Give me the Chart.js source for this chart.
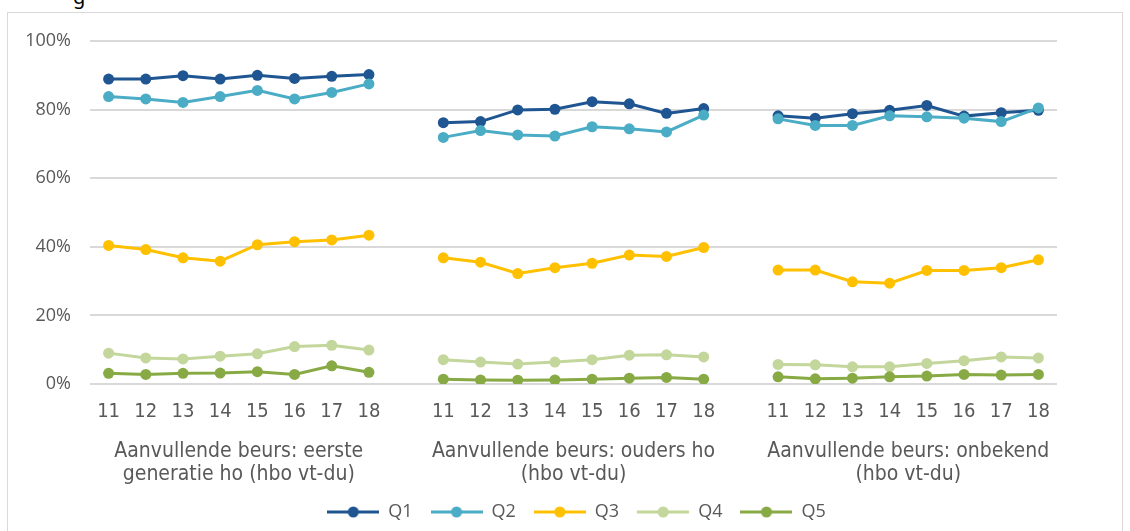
<!DOCTYPE html>
<html>
<head>
<meta charset="utf-8">
<script src="https://cdn.jsdelivr.net/npm/chart.js@4"></script>
<style>
  html, body { margin: 0; padding: 0; background: #fff; overflow: hidden; }
  #frame { position: absolute; left: 7px; top: 12px; width: 1116px; height: 540px; border: 1px solid #d9d9d9; box-sizing: border-box; }
  #frag { position: absolute; left: 73px; top: -17px; font: 20px "Noto Sans", sans-serif; color: #000; }
  canvas { position: absolute; left: 0; top: 0; }
</style>
</head>
<body>
<div id="frag">g</div>
<div id="frame"></div>
<canvas id="c" width="1130" height="531"></canvas>
<script>
// ---- data ----
const years = ['11', '12', '13', '14', '15', '16', '17', '18'];
const groupLabels = [
  ['Aanvullende beurs: eerste', 'generatie ho (hbo vt-du)'],
  ['Aanvullende beurs: ouders ho', '(hbo vt-du)'],
  ['Aanvullende beurs: onbekend', '(hbo vt-du)']
];
const yTicks = [0, 20, 40, 60, 80, 100];
const seriesNames = ['Q1', 'Q2', 'Q3', 'Q4', 'Q5'];
const seriesColors = ['#1F5591', '#4BACC6', '#FFC000', '#C3D69B', '#88AA45'];

const Q1 = [88.9, 88.9, 89.9, 88.9, 90.0, 89.1, 89.7, 90.2,
            76.2, 76.5, 79.9, 80.1, 82.3, 81.7, 78.9, 80.3,
            78.2, 77.5, 78.8, 79.8, 81.2, 78.1, 79.1, 79.8];
const Q2 = [83.8, 83.1, 82.1, 83.8, 85.6, 83.1, 85.0, 87.5,
            71.9, 73.9, 72.6, 72.3, 75.0, 74.4, 73.5, 78.4,
            77.3, 75.4, 75.4, 78.2, 77.9, 77.5, 76.5, 80.5];
const Q3 = [40.4, 39.2, 36.8, 35.8, 40.6, 41.5, 42.0, 43.4,
            36.8, 35.5, 32.2, 33.9, 35.2, 37.6, 37.2, 39.8,
            33.2, 33.2, 29.8, 29.4, 33.1, 33.1, 33.9, 36.2];
const Q4 = [9.0, 7.6, 7.3, 8.1, 8.8, 10.9, 11.3, 9.9,
            7.1, 6.4, 5.8, 6.4, 7.1, 8.4, 8.5, 7.9,
            5.7, 5.6, 5.0, 5.0, 6.0, 6.8, 7.9, 7.6];
const Q5 = [3.1, 2.8, 3.1, 3.2, 3.6, 2.8, 5.3, 3.4,
            1.4, 1.2, 1.1, 1.2, 1.4, 1.7, 1.9, 1.4,
            2.1, 1.5, 1.7, 2.1, 2.3, 2.8, 2.6, 2.8];
const seriesValues = [Q1, Q2, Q3, Q4, Q5];

// ---- build category slots with a blank slot between groups ----
const labels = [];
groupLabels.forEach((g, gi) => {
  if (gi > 0) labels.push('');
  years.forEach(y => labels.push(y));
});
function withGaps(vals) {
  const out = [];
  groupLabels.forEach((g, gi) => {
    if (gi > 0) out.push(null);
    for (let i = 0; i < years.length; i++) out.push(vals[gi * years.length + i]);
  });
  return out;
}
const groupCenters = groupLabels.map((g, gi) => gi * (years.length + 1) + years.length / 2);

function legendIcon(color) {
  const c = document.createElement('canvas');
  c.width = 52; c.height = 14;
  const x = c.getContext('2d');
  x.strokeStyle = color; x.lineWidth = 3;
  x.beginPath(); x.moveTo(0, 7); x.lineTo(52, 7); x.stroke();
  x.fillStyle = color;
  x.beginPath(); x.arc(26, 7, 5.5, 0, Math.PI * 2); x.fill();
  return c;
}
const icons = seriesColors.map(legendIcon);

const TXT = '#595959';
const datasets = seriesNames.map((n, i) => ({
  label: n,
  data: withGaps(seriesValues[i]),
  borderColor: seriesColors[i],
  backgroundColor: seriesColors[i],
  pointBackgroundColor: seriesColors[i],
  pointBorderColor: seriesColors[i],
  borderWidth: 3,
  pointRadius: 5.5,
  pointBorderWidth: 0,
  pointHoverRadius: 5.5,
  spanGaps: false,
  tension: 0,
  order: seriesNames.length - i
}));

const legendShift = {
  id: 'legendShift',
  afterLayout(chart) {
    if (chart.legend) { chart.legend.left += 48; chart.legend.right += 48; }
  }
};

new Chart(document.getElementById('c'), {
  type: 'line',
  data: { labels, datasets },
  plugins: [legendShift],
  options: {
    responsive: false,
    animation: false,
    events: [],
    layout: { padding: { left: 0, right: 73, top: 41, bottom: 0 } },
    plugins: {
      tooltip: { enabled: false },
      legend: {
        position: 'bottom',
        labels: {
          usePointStyle: true,
          pointStyleWidth: 52,
          padding: 18,
          color: TXT,
          font: { family: '"Open Sans", "Noto Sans", sans-serif', size: 18 },
          generateLabels: (chart) => seriesNames.map((n, i) => ({
            text: n,
            pointStyle: icons[i],
            fillStyle: seriesColors[i],
            strokeStyle: seriesColors[i],
            lineWidth: 0,
            fontColor: TXT,
            datasetIndex: i,
            hidden: false
          }))
        }
      }
    },
    scales: {
      x: {
        type: 'category',
        offset: true,
        weight: 0,
        grid: { display: false, drawTicks: false },
        border: { display: false },
        ticks: {
          color: TXT, padding: 16, autoSkip: false, maxRotation: 0,
          font: { family: '"DejaVu Sans Condensed", "DejaVu Sans", sans-serif', size: 20 }
        },
        afterFit: (s) => { s.height = 48; }
      },
      x2: {
        type: 'linear',
        position: 'bottom',
        weight: 1,
        min: 0,
        max: labels.length,
        grid: { display: false, drawTicks: false },
        border: { display: false },
        afterBuildTicks: (s) => { s.ticks = groupCenters.map(v => ({ value: v })); },
        ticks: {
          color: TXT, padding: 8, autoSkip: false, maxRotation: 0,
          font: { family: '"DejaVu Sans Condensed", "DejaVu Sans", sans-serif', size: 21, lineHeight: 1.1 },
          callback: (v, idx) => groupLabels[idx]
        },
        afterFit: (s) => { s.height = 53; }
      },
      y: {
        min: 0,
        max: 100,
        afterBuildTicks: (s) => { s.ticks = yTicks.map(v => ({ value: v })); },
        grid: { color: '#d9d9d9', lineWidth: 2, drawTicks: false },
        border: { display: false },
        ticks: {
          color: TXT, padding: 19,
          font: { family: '"Open Sans", "Noto Sans", sans-serif', size: 18 },
          callback: (v) => v + '%'
        },
        afterFit: (s) => { s.width = 90; }
      }
    }
  }
});
</script>
</body>
</html>
